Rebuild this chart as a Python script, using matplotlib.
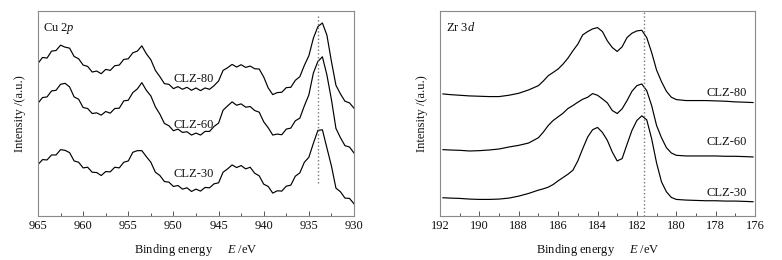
import numpy as np
import matplotlib
matplotlib.use("Agg")
from matplotlib import pyplot as plt
from matplotlib.ticker import MultipleLocator

plt.rcParams["font.family"] = ["Liberation Serif", "DejaVu Serif"]
plt.rcParams["mathtext.fontset"] = "custom"
plt.rcParams["mathtext.rm"] = "Liberation Serif"
plt.rcParams["mathtext.it"] = "Liberation Serif:italic"
plt.rcParams["text.color"] = "#111111"
plt.rcParams["axes.labelcolor"] = "#111111"

## Data (intensity in a.u.)

# Cu 2p panel, binding energy 965 -> 930 eV in 0.5 eV steps
cu_energy = [965.0 - 0.5 * i for i in range(71)]
cu_clz80 = [462, 480, 478, 499, 501, 517, 511, 508, 483, 476, 457, 453, 436, 439, 431, 444,
            441, 455, 457, 474, 476, 494, 499, 515, 491, 473, 441, 422, 401, 399, 386, 392,
            384, 390, 381, 388, 380, 388, 384, 395, 409, 441, 449, 459, 451, 458, 450, 454,
            446, 445, 421, 388, 368, 374, 375, 389, 390, 411, 422, 456, 485, 538, 573, 584,
            547, 468, 396, 370, 348, 343, 327]
cu_clz60 = [342, 359, 361, 379, 381, 399, 402, 391, 361, 354, 329, 326, 311, 313, 306, 317,
            312, 326, 327, 349, 351, 374, 385, 404, 381, 364, 331, 309, 281, 274, 259, 264,
            254, 256, 246, 252, 246, 257, 257, 272, 282, 321, 334, 346, 336, 340, 330, 332,
            320, 315, 286, 268, 246, 249, 247, 264, 267, 289, 297, 334, 367, 433, 468, 482,
            427, 353, 266, 238, 214, 210, 192]
cu_clz30 = [157, 172, 171, 186, 186, 202, 200, 193, 168, 164, 147, 149, 134, 133, 124, 136,
            135, 149, 147, 164, 168, 194, 199, 199, 181, 164, 134, 124, 106, 104, 91, 94,
            83, 87, 76, 83, 77, 88, 87, 99, 102, 134, 144, 156, 148, 154, 144, 149,
            131, 123, 98, 91, 71, 78, 77, 92, 95, 122, 132, 164, 179, 221, 260, 262,
            207, 153, 86, 75, 56, 55, 39]

# Zr 3d panel
zr_energy = [191.85, 191.5, 191.0, 190.5, 190.0, 189.5, 189.0, 188.5, 188.0, 187.5, 187.0,
             186.75, 186.5, 186.25, 186.0, 185.75, 185.5, 185.25, 185.0, 184.75, 184.5,
             184.25, 184.0, 183.75, 183.5, 183.25, 183.0, 182.75, 182.5, 182.25, 182.0,
             181.75, 181.5, 181.25, 181.0, 180.75, 180.5, 180.25, 180.0, 179.5, 179.0,
             178.5, 178.0, 177.5, 177.0, 176.5, 176.1]
zr_clz80 = [370, 368, 366, 364, 363, 362, 362, 366, 372, 382, 395, 409, 425, 435, 445, 460,
            478, 500, 520, 548, 558, 566, 570, 558, 530, 510, 498, 512, 540, 553, 560, 562,
            540, 495, 442, 407, 378, 360, 353, 350, 350, 350, 349, 348, 346, 345, 344]
zr_clz60 = [202, 201, 200, 198, 199, 201, 204, 210, 215, 222, 238, 255, 275, 290, 301, 312,
            326, 335, 345, 354, 360, 371, 366, 355, 343, 320, 311, 325, 350, 378, 395, 400,
            380, 335, 275, 238, 208, 192, 185, 183, 183, 183, 183, 182, 182, 181, 180]
zr_clz30 = [57, 56, 55, 53, 52, 52, 53, 56, 62, 70, 80, 84, 89, 97, 108, 118,
            128, 140, 168, 205, 240, 262, 269, 254, 230, 195, 168, 175, 218, 260, 290, 304,
            292, 235, 162, 105, 75, 58, 52, 50, 49, 48, 48, 47, 47, 46, 45]

sample_names = ["CLZ-80", "CLZ-60", "CLZ-30"]
cu_label_pos = [(947.8, 415), (947.8, 275), (947.8, 130)]
zr_label_pos = [(177.45, 372), (177.45, 225), (177.45, 72)]
cu_peak = 934.0
zr_peak = 181.65


## Plotting

def style_axes(ax, xlim, major, minor):
    ax.set_xlim(*xlim)
    ax.set_ylim(2, 620)
    ax.set_yticks([])
    ax.xaxis.set_major_locator(MultipleLocator(major))
    ax.xaxis.set_minor_locator(MultipleLocator(minor))
    for spine in ax.spines.values():
        spine.set_color("#8a8a8a")
        spine.set_linewidth(0.8)
    ax.tick_params(axis="x", which="both", direction="in", top=False,
                   color="#555555", labelcolor="#111111", labelsize=9, pad=3)
    ax.tick_params(axis="x", which="major", length=3.5, width=0.7)
    ax.tick_params(axis="x", which="minor", length=2.5, width=0.7)
    ax.set_xlabel("Binding energy     $E$ /eV", fontsize=9, labelpad=7)
    ax.set_ylabel("Intensity /(a.u.)", fontsize=9, labelpad=9)


fig = plt.figure(figsize=(7.82, 2.6), dpi=100)
ax1 = fig.add_axes([38 / 782, 44 / 260, 316 / 782, 205 / 260])
ax2 = fig.add_axes([440 / 782, 44 / 260, 315 / 782, 205 / 260])

# Cu 2p ----------------------------------
for series in (cu_clz80, cu_clz60, cu_clz30):
    ax1.plot(cu_energy, series, color="black", linewidth=0.85)
for name, (x, y) in zip(sample_names, cu_label_pos):
    ax1.text(x, y, name, ha="center", va="center", fontsize=9)
ax1.plot([cu_peak, cu_peak], [102, 612], color="#777777", linestyle=":", linewidth=1.0)
ax1.text(0.015, 0.95, "Cu 2$p$", transform=ax1.transAxes, ha="left", va="top", fontsize=9)
style_axes(ax1, (965, 930), 5, 2.5)

# Zr 3d ----------------------------------
for series in (zr_clz80, zr_clz60, zr_clz30):
    ax2.plot(zr_energy, series, color="black", linewidth=0.85)
for name, (x, y) in zip(sample_names, zr_label_pos):
    ax2.text(x, y, name, ha="center", va="center", fontsize=9)
ax2.axvline(zr_peak, color="#777777", linestyle=":", linewidth=1.0)
ax2.text(0.02, 0.95, "Zr 3$d$", transform=ax2.transAxes, ha="left", va="top", fontsize=9)
style_axes(ax2, (192, 176), 2, 1)

fig.savefig("out.png", dpi=100, facecolor="white")
